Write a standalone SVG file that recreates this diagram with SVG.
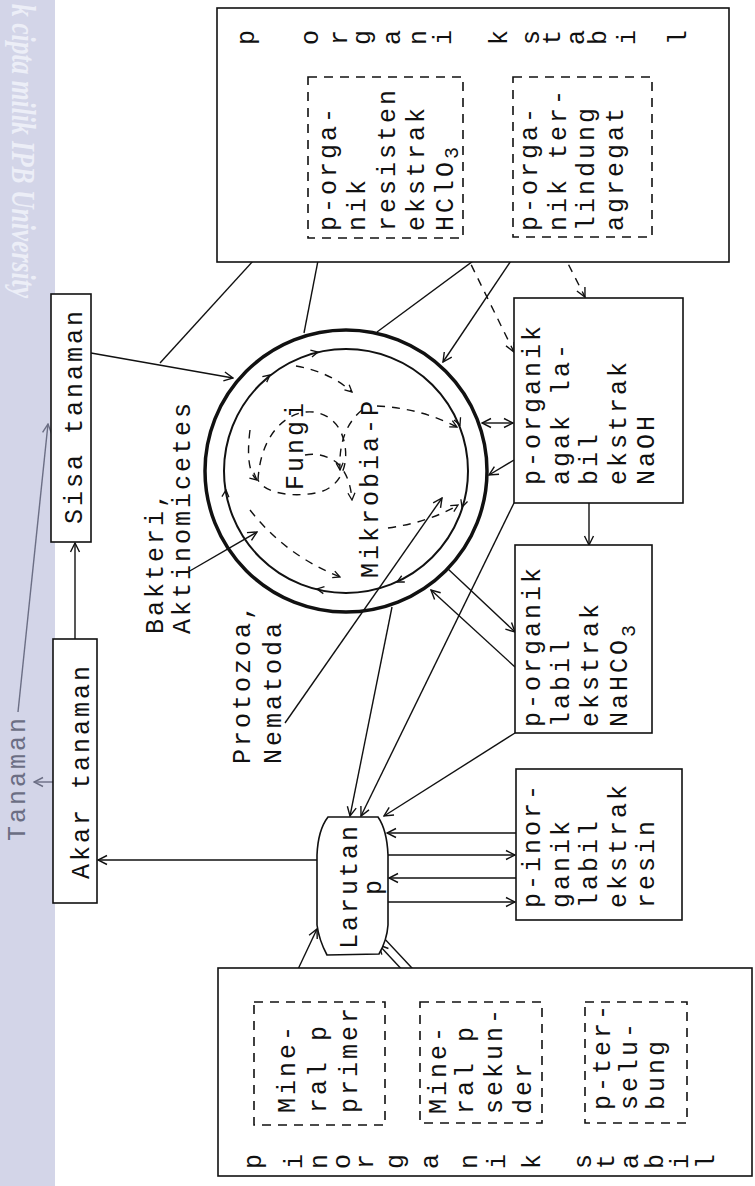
<svg xmlns="http://www.w3.org/2000/svg" width="755" height="1186" viewBox="0 0 755 1186">
<defs>
<style>
.t{font-family:"Liberation Mono","DejaVu Sans Mono",monospace;font-size:25px;letter-spacing:3px;fill:#111}
.g{fill:#6b6e84}
.box{fill:#fff;stroke:#111;stroke-width:1.6}
.dbox{fill:none;stroke:#111;stroke-width:1.6;stroke-dasharray:9 7}
.ln{fill:none;stroke:#111;stroke-width:1.4}
.dl{fill:none;stroke:#111;stroke-width:1.4;stroke-dasharray:8 7}
.gl{fill:none;stroke:#6b6e84;stroke-width:1.4}
.tick{fill:none;stroke:none}
</style>
<marker id="ah" markerUnits="userSpaceOnUse" viewBox="-11 -6 12 12" refX="0" refY="0" markerWidth="12" markerHeight="12" orient="auto-start-reverse"><path d="M-9,-4.5 L0,0 L-9,4.5" fill="none" stroke="#111" stroke-width="1.4"/></marker>
<marker id="ahs" markerUnits="userSpaceOnUse" viewBox="-9 -5 10 10" refX="0" refY="0" markerWidth="10" markerHeight="10" orient="auto"><path d="M-7,-3.5 L0,0 L-7,3.5" fill="none" stroke="#111" stroke-width="1.3"/></marker>
<marker id="ahg" markerUnits="userSpaceOnUse" viewBox="-11 -6 12 12" refX="0" refY="0" markerWidth="12" markerHeight="12" orient="auto"><path d="M-9,-4.5 L0,0 L-9,4.5" fill="none" stroke="#6b6e84" stroke-width="1.4"/></marker>
</defs>
<rect width="755" height="1186" fill="#fff"/>
<g id="watermark">
<rect x="0" y="0" width="55" height="1186" fill="#d3d5e8"/>
<text transform="translate(12 4) rotate(90)" font-family="Liberation Serif,serif" font-size="34" font-weight="bold" font-style="italic" fill="#eceef7" textLength="294" lengthAdjust="spacingAndGlyphs">k cipta milik IPB University</text>
</g>

<g id="connectors">
<path class="ln" d="M75,639 L75,543" marker-end="url(#ah)"/>
<path class="ln" d="M317,860 L98,860" marker-end="url(#ah)"/>
<path class="gl" d="M53,782 L34,782" marker-end="url(#ahg)"/>
<path class="gl" d="M18,712 L48,424" marker-end="url(#ahg)"/>
<path class="ln" d="M91,353 L233,378" marker-end="url(#ah)"/>
<path class="ln" d="M160,363 L304,205" marker-end="url(#ah)"/>
<path class="ln" d="M304,333 L322,240" marker-end="url(#ah)"/>
<path class="ln" d="M377,332 L511,233" marker-end="url(#ah)"/>
<path class="ln" d="M527,237 L443,362" marker-end="url(#ah)"/>
<path class="dl" d="M555,238 L585,297" marker-end="url(#ah)"/>
<path class="dl" d="M458,238 L514,352" marker-end="url(#ah)"/>
<path class="ln" d="M482,423 L513,423" marker-start="url(#ah)" marker-end="url(#ah)"/>
<path class="ln" d="M514,460 L489,475" marker-end="url(#ah)"/>
<path class="ln" d="M589,503 L589,545" marker-end="url(#ah)"/>
<path class="ln" d="M447,568 L515,632" marker-end="url(#ah)"/>
<path class="ln" d="M515,667 L431,590" marker-end="url(#ah)"/>
<path class="ln" d="M515,733 L384,816" marker-end="url(#ah)"/>
<path class="ln" d="M514,503 L361,816" marker-end="url(#ah)"/>
<path class="ln" d="M392,607 L350,816" marker-end="url(#ah)"/>
<path class="ln" d="M285,723 L442,498" marker-end="url(#ah)"/>
<path class="ln" d="M188,572 L257,532" marker-end="url(#ah)"/>
<path class="ln" d="M516,833 L387,833" marker-end="url(#ah)"/>
<path class="ln" d="M388,855 L515,855" marker-end="url(#ah)"/>
<path class="ln" d="M516,878 L389,878" marker-end="url(#ah)"/>
<path class="ln" d="M388,902 L515,902" marker-end="url(#ah)"/>
<path class="ln" d="M283,1001 L317,929" marker-end="url(#ah)"/>
<path class="ln" d="M382,936 L440,998" marker-end="url(#ah)"/>
<path class="ln" d="M432,1002 L379,945" marker-end="url(#ah)"/>
<path class="ln" d="M586,1027 L545,1027" marker-end="url(#ah)"/>
<path class="ln" d="M543,1088 L584,1088" marker-end="url(#ah)"/>
<path class="ln" d="M513,158 L465,158" marker-end="url(#ah)"/>
</g>

<g id="labels">
<text class="t g" transform="translate(25 841) rotate(-90)">Tanaman</text>
<text class="t" transform="translate(163 634) rotate(-90)">Bakteri,<tspan x="0" dy="27">Aktinomicetes</tspan></text>
<text class="t" transform="translate(250 764) rotate(-90)">Protozoa,<tspan x="0" dy="31">Nematoda</tspan></text>
</g>

<g id="node-sisa">
<rect class="box" x="51" y="294" width="40" height="248"/>
<text class="t" transform="translate(82 524) rotate(-90)">Sisa tanaman</text>
</g>
<g id="node-akar">
<rect class="box" x="53" y="639" width="44" height="264"/>
<text class="t" transform="translate(89 879) rotate(-90)">Akar tanaman</text>
</g>

<g id="node-mikrobia">
<circle cx="346" cy="471" r="141" fill="none" stroke="#111" stroke-width="3.5"/>
<circle cx="346" cy="471" r="122" fill="none" stroke="#111" stroke-width="2"/>
<path class="tick" d="M312,353.4 L318,352" marker-end="url(#ahs)"/>
<path class="tick" d="M265,379 L270,375" marker-end="url(#ahs)"/>
<path class="tick" d="M457.5,419 L460,425" marker-end="url(#ahs)"/>
<path class="tick" d="M464,501 L462,507" marker-end="url(#ahs)"/>
<path class="tick" d="M403,579 L397,582" marker-end="url(#ahs)"/>
<path class="tick" d="M323,590 L317,589" marker-end="url(#ahs)"/>
<path class="tick" d="M225.5,496 L226,490" marker-end="url(#ahs)"/>
<path class="dl" d="M258,480 C262,410 320,395 340,430 C352,455 345,485 320,492 C295,498 265,494 258,480"/>
<path class="dl" d="M296,366 Q330,372 352,392" marker-end="url(#ahs)"/>
<path class="dl" d="M305,455 Q322,452 336,462 Q350,474 352,500" marker-end="url(#ahs)"/>
<path class="dl" d="M362,410 Q338,430 340,470" marker-end="url(#ahs)"/>
<path class="dl" d="M377,406 Q420,408 457,427" marker-end="url(#ahs)"/>
<path class="dl" d="M388,528 Q430,522 458,505" marker-end="url(#ahs)"/>
<path class="dl" d="M250,510 Q285,555 340,577" marker-end="url(#ahs)"/>
<path class="dl" d="M250,430 Q245,470 257,480" marker-end="url(#ahs)"/>
<text class="t" transform="translate(303 490) rotate(-90)">Fungi</text>
<text class="t" transform="translate(378 578) rotate(-90)">Mikrobia-P</text>
</g>

<g id="node-porganik-stabil">
<rect class="box" x="217" y="8" width="512" height="254"/>
<g class="t" text-anchor="middle">
<text transform="translate(254 36) rotate(-90)">p</text>
<text transform="translate(318 36) rotate(-90)">o</text>
<text transform="translate(347 36) rotate(-90)">r</text>
<text transform="translate(370 36) rotate(-90)">g</text>
<text transform="translate(400 36) rotate(-90)">a</text>
<text transform="translate(426 36) rotate(-90)">n</text>
<text transform="translate(451 36) rotate(-90)">i</text>
<text transform="translate(507 36) rotate(-90)">k</text>
<text transform="translate(539 36) rotate(-90)">s</text>
<text transform="translate(560 36) rotate(-90)">t</text>
<text transform="translate(584 36) rotate(-90)">a</text>
<text transform="translate(606 36) rotate(-90)">b</text>
<text transform="translate(635 36) rotate(-90)">i</text>
<text transform="translate(686 36) rotate(-90)">l</text>
</g>
</g>
<g id="node-hclo3">
<rect class="dbox" x="308" y="77" width="155" height="161"/>
<text class="t" transform="translate(336 231) rotate(-90)">p-orga-<tspan x="0" dy="29.3">nik</tspan><tspan x="0" dy="29.3">resisten</tspan><tspan x="0" dy="29.3">ekstrak</tspan><tspan x="0" dy="29.3">HClO</tspan><tspan font-size="20" dy="5">3</tspan></text>
</g>
<g id="node-agregat">
<rect class="dbox" x="513" y="77" width="139" height="160"/>
<text class="t" transform="translate(537 231) rotate(-90)">p-orga-<tspan x="0" dy="28.5">nik ter-</tspan><tspan x="0" dy="28.5">lindung</tspan><tspan x="0" dy="28.5">agregat</tspan></text>
</g>
<g id="node-naoh">
<rect class="box" x="514" y="298" width="169" height="205"/>
<text class="t" transform="translate(540 485) rotate(-90)">p-organik<tspan x="0" dy="28.5">agak la-</tspan><tspan x="0" dy="28.5">bil</tspan><tspan x="0" dy="28.5">ekstrak</tspan><tspan x="0" dy="28.5">NaOH</tspan></text>
</g>
<g id="node-nahco3">
<rect class="box" x="515" y="545" width="137" height="188"/>
<text class="t" transform="translate(540 727) rotate(-90)">p-organik<tspan x="0" dy="29">labil</tspan><tspan x="0" dy="29">ekstrak</tspan><tspan x="0" dy="29">NaHCO</tspan><tspan font-size="20" dy="8">3</tspan></text>
</g>
<g id="node-resin">
<rect class="box" x="516" y="769" width="166" height="151"/>
<text class="t" transform="translate(540 908) rotate(-90)">p-inor-<tspan x="0" dy="28.5">ganik</tspan><tspan x="0" dy="28.5">labil</tspan><tspan x="0" dy="28.5">ekstrak</tspan><tspan x="0" dy="28.5">resin</tspan></text>
</g>
<g id="node-larutan">
<path class="box" d="M328,817 L378,817 Q387,830 388,855 L388,925 Q387,940 379,954 L327,955 Q319,940 317,925 L317,855 Q318,830 328,817 Z"/>
<text class="t" transform="translate(357 886) rotate(-90)" text-anchor="middle">Larutan<tspan x="0" dy="24">p</tspan></text>
</g>

<g id="node-pinorganik-stabil">
<rect class="box" x="218" y="968" width="534" height="208"/>
<g class="t" text-anchor="middle">
<text transform="translate(261 1160) rotate(-90)">p</text>
<text transform="translate(302 1160) rotate(-90)">i</text>
<text transform="translate(327 1160) rotate(-90)">n</text>
<text transform="translate(350 1160) rotate(-90)">o</text>
<text transform="translate(373 1160) rotate(-90)">r</text>
<text transform="translate(403 1160) rotate(-90)">g</text>
<text transform="translate(438 1160) rotate(-90)">a</text>
<text transform="translate(477 1160) rotate(-90)">n</text>
<text transform="translate(505 1160) rotate(-90)">i</text>
<text transform="translate(540 1160) rotate(-90)">k</text>
<text transform="translate(591 1160) rotate(-90)">s</text>
<text transform="translate(614 1160) rotate(-90)">t</text>
<text transform="translate(638 1160) rotate(-90)">a</text>
<text transform="translate(663 1160) rotate(-90)">b</text>
<text transform="translate(688 1160) rotate(-90)">i</text>
<text transform="translate(714 1160) rotate(-90)">l</text>
</g>
</g>
<g id="node-primer">
<rect class="dbox" x="254" y="1002" width="131" height="123"/>
<text class="t" transform="translate(295 1113) rotate(-90)">Mine-<tspan x="0" dy="31">ral p</tspan><tspan x="0" dy="31">primer</tspan></text>
</g>
<g id="node-sekunder">
<rect class="dbox" x="420" y="1002" width="122" height="121"/>
<text class="t" transform="translate(446 1114) rotate(-90)">Mine-<tspan x="0" dy="27">ral p</tspan><tspan x="0" dy="29">sekun-</tspan><tspan x="0" dy="29">der</tspan></text>
</g>
<g id="node-terselubung">
<rect class="dbox" x="585" y="1002" width="102" height="121"/>
<text class="t" transform="translate(610 1110) rotate(-90)">p-ter-<tspan x="0" dy="27">selu-</tspan><tspan x="0" dy="27">bung</tspan></text>
</g>
</svg>
